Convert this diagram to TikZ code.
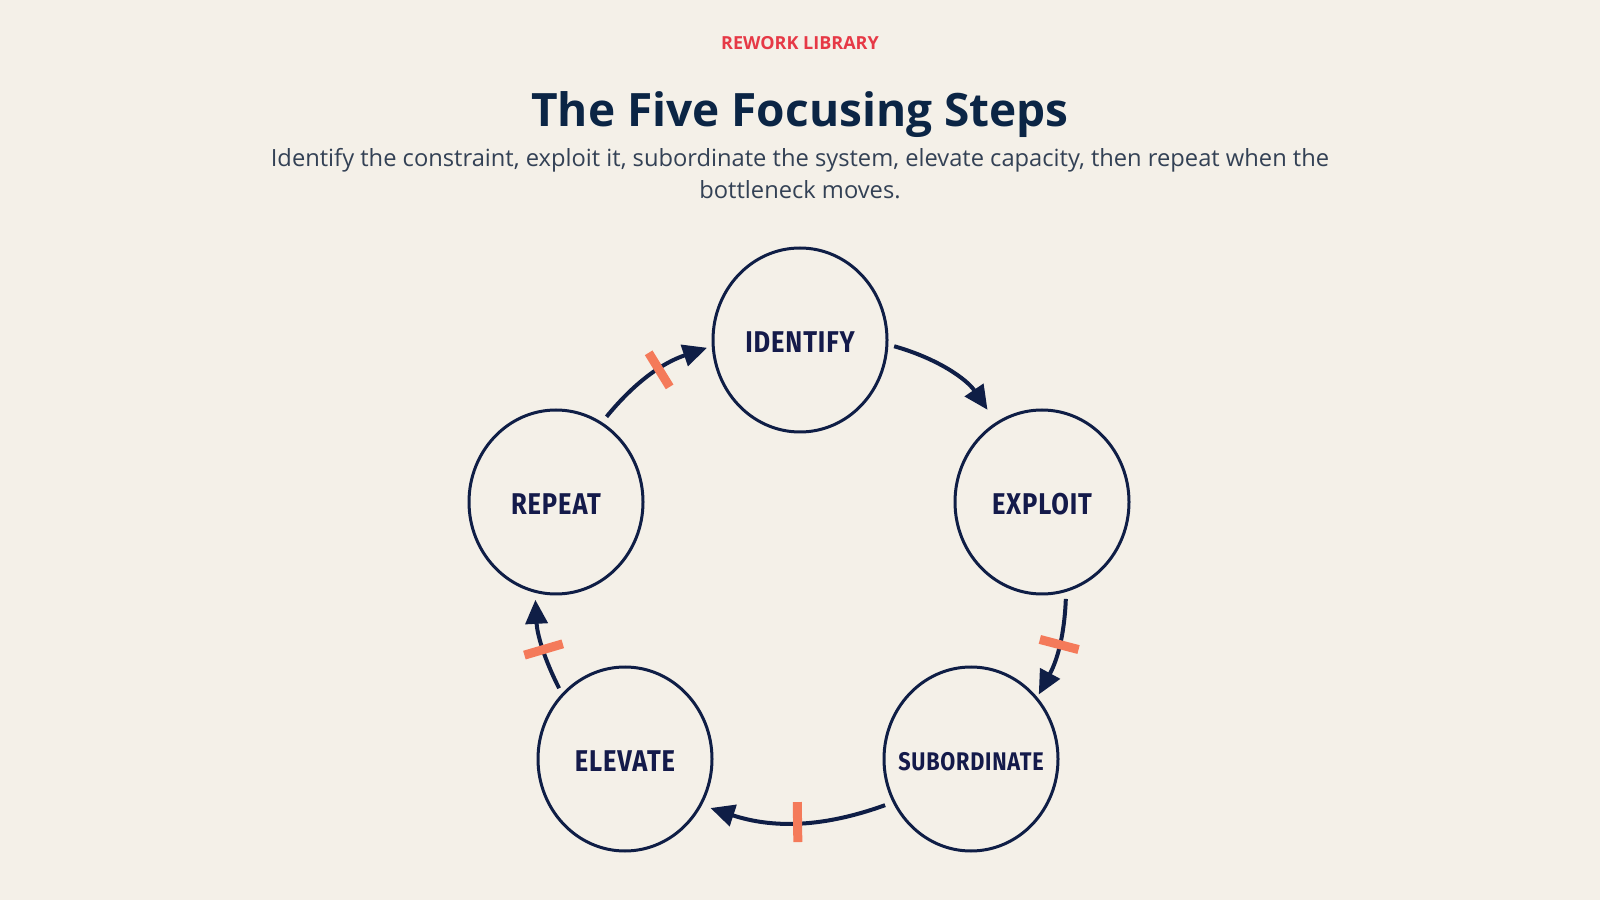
\documentclass[tikz,border=0pt]{standalone}
\usepackage{fontspec}
\setmainfont{Open Sans}
\newfontfamily\lblfont[FakeStretch=0.85,LetterSpace=3]{Fira Sans}
\usetikzlibrary{arrows.meta,shapes.geometric}
\definecolor{bg}{HTML}{F4F0E8}
\definecolor{navy}{HTML}{0B2545}
\definecolor{ink}{HTML}{0F1E46}
\definecolor{lbl}{HTML}{141A4A}
\definecolor{subtxt}{HTML}{334155}
\definecolor{redlbl}{HTML}{E63946}
\definecolor{tickc}{HTML}{F47A5A}
\newcommand{\steplabel}[1]{\raisebox{-2.5pt}[\height][\depth]{\makebox[0pt]{#1}}}
\begin{document}
\begin{tikzpicture}[x=1pt,y=1pt,
  stepnode/.style={ellipse, draw=ink, line width=3pt, minimum width=174pt, minimum height=184pt, inner sep=0pt,
    font=\lblfont\bfseries\fontsize{30}{32}\selectfont, text=lbl},
  smalllabel/.style={font=\lblfont\bfseries\fontsize{25.5}{28}\selectfont},
  flow/.style={draw=ink, line width=4pt, -{Triangle[length=24pt,width=22pt]}},
  tickmark/.style={rectangle, fill=tickc, minimum width=9pt, minimum height=40pt, inner sep=0pt, sloped}
]
\fill[bg] (0,0) rectangle (1600,900);
\useasboundingbox (0,0) rectangle (1600,900);

\node[anchor=base, font=\bfseries\fontsize{18}{20}\selectfont, text=redlbl] (kicker) at (800,850) {REWORK LIBRARY};
\node[anchor=base, font=\bfseries\fontsize{46}{56}\selectfont, text=navy] (title) at (800,773.3) {The Five Focusing Steps};
\node[anchor=base, font=\fontsize{23.7}{32}\selectfont, text=subtxt] (sub1) at (800,733.3) {Identify the constraint, exploit it, subordinate the system, elevate capacity, then repeat when the};
\node[anchor=base, font=\fontsize{23.7}{32}\selectfont, text=subtxt] (sub2) at (800,701) {bottleneck moves.};

\node[stepnode] (id) at (800,560) {\steplabel{IDENTIFY}};
\node[stepnode] (ex) at (1042,398) {\steplabel{EXPLOIT}};
\node[stepnode, smalllabel] (sb) at (971,141) {\steplabel{SUBORDINATE}};
\node[stepnode] (el) at (625,141) {\steplabel{ELEVATE}};
\node[stepnode] (rp) at (556,398) {\steplabel{REPEAT}};

\draw[flow, shorten <=6pt, shorten >=15pt] (id.-3.6) to[bend left=20] (ex.120.3);
\draw[flow, shorten <=7pt, shorten >=3pt] (ex.-75.8) to[bend left=13] node[tickmark, pos=0.48] {} (sb.43.7);
\draw[flow, shorten <=8pt, shorten >=9pt] (sb.209.4) to[bend left=19] node[tickmark, pos=0.5] {} (el.-31.2);
\draw[flow, shorten <=6pt, shorten >=7pt] (el.134.2) to[bend left=12] node[tickmark, pos=0.45] {} (rp.-103.6);
\draw[flow, shorten <=7pt, shorten >=5pt] (rp.60.4) to[bend left=16] node[tickmark, pos=0.58] {} (id.184.2);
\end{tikzpicture}
\end{document}
